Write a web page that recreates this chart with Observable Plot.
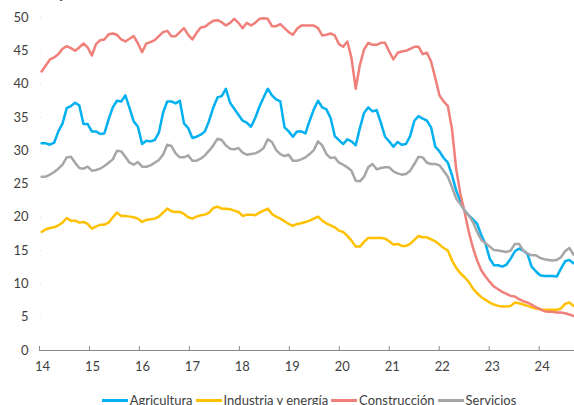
<!DOCTYPE html>
<html>
<head>
<meta charset="utf-8">
<script src="https://cdn.jsdelivr.net/npm/d3@7"></script>
<script src="https://cdn.jsdelivr.net/npm/@observablehq/plot@0.6"></script>
<style>
  html, body { margin: 0; padding: 0; background: #fff; overflow: hidden; }
  body { width: 574px; height: 405px; position: relative; font-family: Lato, "Open Sans", sans-serif; color: #404040; }
  #title { position: absolute; left: 10px; top: -13px; font-size: 13px; line-height: 15px; }
  #chart { position: absolute; left: 0; top: 0; }
  #legend { position: absolute; left: 22px; width: 574px; top: 393px; display: flex; justify-content: center; font-size: 13px; line-height: 15px; white-space: nowrap; }
  .item { display: flex; align-items: center; margin: 0 1.5px; }
  .sw { display: inline-block; width: 26px; height: 3px; margin-right: 2px; }
</style>
</head>
<body>
<div id="title">Porcentaje</div>
<div id="chart"></div>
<div id="legend"></div>
<script>
// Series names and colours
const seriesNames = ["Agricultura", "Industria y energía", "Construcción", "Servicios"];
const seriesColors = ["#00b0f0", "#ffc000", "#f07f7a", "#a6a6a6"];

// Monthly values, Jan 2014 onwards
const agricultura = [
  31.1, 31.1, 30.9, 31.2, 32.9, 34.1, 36.4, 36.7, 37.2, 36.8, 34.0, 34.0,
  32.9, 32.9, 32.5, 32.6, 34.7, 36.5, 37.5, 37.4, 38.3, 36.4, 34.4, 33.6,
  31.0, 31.5, 31.4, 31.6, 32.7, 35.7, 37.4, 37.4, 37.1, 37.5, 34.1, 33.4,
  31.9, 32.1, 32.4, 32.9, 34.5, 36.5, 38.0, 38.2, 39.3, 37.2, 36.3, 35.4,
  34.5, 34.2, 33.6, 34.9, 36.6, 38.0, 39.3, 38.3, 37.7, 37.4, 33.5, 32.9,
  32.1, 32.9, 32.9, 32.6, 34.5, 36.2, 37.5, 36.5, 36.2, 34.9, 32.2, 31.6,
  31.0, 31.7, 31.4, 30.8, 33.4, 35.7, 36.5, 35.9, 36.1, 34.2, 32.1, 31.4,
  30.6, 31.3, 30.9, 31.0, 32.2, 34.5, 35.2, 34.8, 34.5, 33.5, 30.6, 29.9,
  28.9, 28.2, 26.3, 24.0, 22.4, 21.0, 20.3, 19.7, 19.0, 17.3, 16.0, 13.8,
  12.8, 12.8, 12.6, 12.9, 13.8, 14.9, 15.3, 15.0, 14.5, 12.6, 11.9, 11.3,
  11.2, 11.2, 11.2, 11.1, 12.3, 13.4, 13.6, 13.1
];
const industria = [
  17.8, 18.2, 18.4, 18.5, 18.8, 19.2, 19.9, 19.5, 19.5, 19.2, 19.3, 19.0,
  18.3, 18.6, 18.9, 18.9, 19.2, 20.0, 20.7, 20.2, 20.2, 20.1, 20.0, 19.8,
  19.3, 19.6, 19.7, 19.8, 20.1, 20.7, 21.3, 20.9, 20.8, 20.8, 20.5, 20.0,
  19.8, 20.1, 20.3, 20.4, 20.7, 21.4, 21.6, 21.3, 21.3, 21.2, 21.0, 20.8,
  20.2, 20.4, 20.4, 20.3, 20.7, 21.0, 21.3, 20.5, 20.1, 19.8, 19.4, 19.0,
  18.7, 19.0, 19.1, 19.3, 19.5, 19.8, 20.1, 19.5, 19.1, 18.8, 18.5, 18.0,
  17.8, 17.2, 16.5, 15.6, 15.6, 16.3, 16.9, 16.9, 16.9, 16.9, 16.8, 16.4,
  15.9, 16.0, 15.7, 15.7, 16.0, 16.6, 17.2, 17.0, 17.0, 16.7, 16.4, 15.9,
  15.4, 15.0, 13.5, 12.4, 11.6, 11.0, 10.3, 9.3, 8.6, 8.0, 7.6, 7.2,
  6.9, 6.7, 6.6, 6.6, 6.7, 7.2, 7.1, 6.9, 6.7, 6.5, 6.3, 6.2,
  6.1, 6.1, 6.1, 6.1, 6.3, 7.0, 7.2, 6.7
];
const construccion = [
  41.9, 42.8, 43.7, 44.0, 44.5, 45.3, 45.7, 45.4, 45.0, 45.5, 46.1, 45.5,
  44.3, 46.0, 46.6, 46.7, 47.5, 47.6, 47.4, 46.7, 46.4, 46.8, 47.2, 46.1,
  44.8, 46.1, 46.3, 46.6, 47.2, 47.8, 48.0, 47.2, 47.2, 47.8, 48.4, 47.4,
  46.7, 47.7, 48.5, 48.6, 49.1, 49.5, 49.6, 49.3, 48.8, 49.2, 49.8, 49.2,
  48.4, 49.2, 48.8, 49.2, 49.8, 49.9, 49.8, 48.7, 48.7, 49.0, 48.4, 47.8,
  47.4, 48.3, 48.8, 48.8, 48.8, 48.8, 48.4, 47.3, 47.4, 47.6, 47.3, 46.0,
  45.6, 46.4, 43.9, 39.3, 42.9, 45.2, 46.2, 45.9, 45.9, 46.2, 46.2, 44.9,
  43.7, 44.7, 44.9, 45.0, 45.3, 45.6, 45.6, 44.5, 44.7, 43.4, 40.9, 38.3,
  37.4, 36.7, 33.2, 27.2, 23.5, 20.8, 17.8, 15.4, 13.5, 12.0, 11.1, 10.3,
  9.6, 9.2, 8.8, 8.5, 8.2, 8.1, 7.7, 7.4, 7.2, 6.9, 6.5, 6.2,
  5.9, 5.8, 5.8, 5.7, 5.7, 5.6, 5.4, 5.2
];
const servicios = [
  26.1, 26.1, 26.4, 26.8, 27.3, 27.9, 29.0, 29.1, 28.2, 27.4, 27.3, 27.6,
  27.0, 27.1, 27.3, 27.7, 28.2, 28.7, 30.0, 29.9, 29.1, 28.2, 27.9, 28.3,
  27.6, 27.6, 27.8, 28.2, 28.6, 29.4, 30.9, 30.7, 29.6, 29.0, 29.0, 29.3,
  28.5, 28.5, 28.8, 29.3, 30.0, 30.8, 31.8, 31.6, 30.8, 30.3, 30.2, 30.4,
  29.7, 29.4, 29.5, 29.6, 29.9, 30.4, 31.7, 31.3, 30.1, 29.5, 29.2, 29.4,
  28.5, 28.5, 28.7, 29.0, 29.5, 30.1, 31.4, 30.8, 29.5, 28.9, 29.0, 28.2,
  27.9, 27.5, 27.0, 25.5, 25.4, 26.1, 27.5, 28.0, 27.2, 27.4, 27.5, 27.5,
  26.9, 26.6, 26.4, 26.5, 27.0, 28.0, 29.1, 29.0, 28.2, 28.0, 28.0, 27.8,
  27.0, 26.1, 24.5, 22.8, 22.0, 21.0, 20.3, 19.3, 17.8, 16.6, 16.1, 15.6,
  15.1, 15.0, 14.9, 14.8, 15.0, 16.0, 16.0, 15.0, 14.6, 14.3, 14.3, 13.9,
  13.7, 13.6, 13.5, 13.6, 14.0, 14.9, 15.4, 14.4
];

// Axis labels
const xTickLabels = ["14", "15", "16", "17", "18", "19", "20", "21", "22", "23", "24"];
const yTicks = [0, 5, 10, 15, 20, 25, 30, 35, 40, 45, 50];

const seriesValues = [agricultura, industria, construccion, servicios];
const rows = [];
seriesValues.forEach((arr, s) => arr.forEach((v, i) => rows.push({ serie: seriesNames[s], i, v })));

// year ticks sit just before each January on the month index
const xTickPos = xTickLabels.map((l, k) => -0.5 + k * 11.93);

const chart = Plot.plot({
  width: 574,
  height: 380,
  marginLeft: 39,
  marginRight: 0,
  marginTop: 17,
  marginBottom: 30,
  style: { fontFamily: "Lato, 'Open Sans', sans-serif", fontSize: "13px", color: "#404040", background: "transparent" },
  x: { domain: [-0.5, 127.24], axis: null },
  y: { domain: [0, 50], axis: null },
  color: { domain: seriesNames, range: seriesColors },
  marks: [
    Plot.ruleY(yTicks.filter(d => d > 0), { x1: -0.2, stroke: "#d4d4d4", strokeDasharray: "2,2", strokeWidth: 1 }),
    Plot.axisY(yTicks, { anchor: "left", label: null, tickSize: 0, tickPadding: 11, fill: "#404040", fontSize: 13 }),
    Plot.ruleY([0], { stroke: "#8a8a8a", strokeWidth: 1 }),
    Plot.ruleX(xTickPos, { y1: 0, y2: 0.6, stroke: "#8a8a8a", strokeWidth: 1 }),
    Plot.axisX(xTickPos, { anchor: "bottom", label: null, tickSize: 0, tickPadding: 11, dx: 3, fill: "#404040", fontSize: 13, tickFormat: (d, k) => xTickLabels[k] }),
    Plot.lineY(rows, { x: "i", y: "v", z: "serie", stroke: "serie", strokeWidth: 2.5, curve: "linear" })
  ]
});
document.getElementById("chart").appendChild(chart);

const legend = document.getElementById("legend");
seriesNames.forEach((n, k) => {
  const it = document.createElement("span");
  it.className = "item";
  const sw = document.createElement("span");
  sw.className = "sw";
  sw.style.background = seriesColors[k];
  it.appendChild(sw);
  it.appendChild(document.createTextNode(n));
  legend.appendChild(it);
});
</script>
</body>
</html>
